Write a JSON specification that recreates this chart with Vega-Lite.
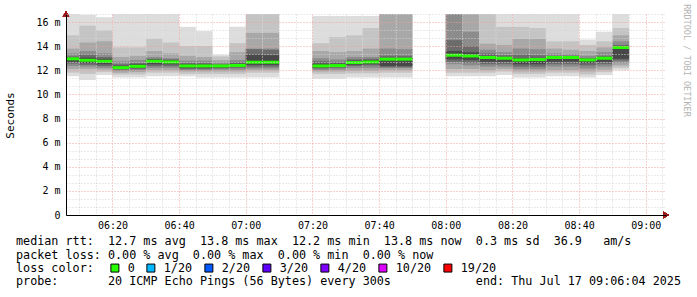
{
  "$schema": "https://vega.github.io/schema/vega-lite/v6.json",
  "width": 600,
  "height": 201,
  "autosize": {"type": "none"},
  "padding": {"left": 66, "top": 14, "right": 31, "bottom": 82},
  "background": "white",
  "config": {"view": {"stroke": null}},
  "title": {
    "text": [
      "median\u00a0rtt:\u00a0\u00a012.7\u00a0ms\u00a0avg\u00a0\u00a013.8\u00a0ms\u00a0max\u00a0\u00a012.2\u00a0ms\u00a0min\u00a0\u00a013.8\u00a0ms\u00a0now\u00a0\u00a00.3\u00a0ms\u00a0sd\u00a0\u00a036.9\u00a0\u00a0\u00a0am/s",
      "packet\u00a0loss:\u00a00.00\u00a0%\u00a0avg\u00a0\u00a00.00\u00a0%\u00a0max\u00a0\u00a00.00\u00a0%\u00a0min\u00a0\u00a00.00\u00a0%\u00a0now"
    ],
    "subtitle": "probe:\u00a0\u00a0\u00a0\u00a0\u00a0\u00a0\u00a020\u00a0ICMP\u00a0Echo\u00a0Pings\u00a0(56\u00a0Bytes)\u00a0every\u00a0300s\u00a0\u00a0\u00a0\u00a0\u00a0\u00a0\u00a0\u00a0\u00a0\u00a0\u00a0\u00a0end:\u00a0Thu\u00a0Jul\u00a017\u00a009:06:04\u00a02025",
    "orient": "bottom",
    "anchor": "start",
    "frame": "group",
    "dx": -50,
    "offset": -39,
    "font": "DejaVu Sans Mono",
    "fontSize": 11.75,
    "fontWeight": "normal",
    "color": "#000000",
    "lineHeight": 14,
    "subtitleFont": "DejaVu Sans Mono",
    "subtitleFontSize": 11.75,
    "subtitleFontWeight": "normal",
    "subtitleColor": "#000000",
    "subtitleLineHeight": 14,
    "subtitlePadding": 14,
    "baseline": "top"
  },
  "data": {"values": [
    {"t":"2025-07-17T06:05:00Z","t2":"2025-07-17T06:10:00Z","mn":11.5,"mx":16.8,"l2":11.8,"h2":14.9,"l3":12.1,"h3":13.8,"l4":12.35,"h4":13.4,"l5":12.55,"h5":13.15,"l6":12.7,"h6":13.05,"med":12.95,"loss":"0"},
    {"t":"2025-07-17T06:10:00Z","t2":"2025-07-17T06:15:00Z","mn":11.2,"mx":16.6,"l2":11.7,"h2":15.7,"l3":12.1,"h3":14.3,"l4":12.3,"h4":13.6,"l5":12.45,"h5":13.3,"l6":12.6,"h6":13.05,"med":12.83,"loss":"0"},
    {"t":"2025-07-17T06:15:00Z","t2":"2025-07-17T06:20:00Z","mn":11.6,"mx":16.4,"l2":11.85,"h2":15.3,"l3":12.05,"h3":14.4,"l4":12.2,"h4":13.4,"l5":12.35,"h5":13.1,"l6":12.5,"h6":12.95,"med":12.75,"loss":"0"},
    {"t":"2025-07-17T06:20:00Z","t2":"2025-07-17T06:25:00Z","mn":11.4,"mx":16.8,"l2":11.65,"h2":13.9,"l3":11.8,"h3":13.1,"l4":11.95,"h4":12.75,"l5":12.05,"h5":12.5,"l6":12.12,"h6":12.38,"med":12.22,"loss":"0"},
    {"t":"2025-07-17T06:25:00Z","t2":"2025-07-17T06:30:00Z","mn":11.4,"mx":16.7,"l2":11.65,"h2":13.9,"l3":11.85,"h3":13.2,"l4":12.0,"h4":12.85,"l5":12.1,"h5":12.6,"l6":12.2,"h6":12.5,"med":12.33,"loss":"0"},
    {"t":"2025-07-17T06:30:00Z","t2":"2025-07-17T06:35:00Z","mn":11.5,"mx":16.7,"l2":11.8,"h2":14.6,"l3":12.0,"h3":13.6,"l4":12.2,"h4":13.1,"l5":12.35,"h5":12.95,"l6":12.5,"h6":12.9,"med":12.75,"loss":"0"},
    {"t":"2025-07-17T06:35:00Z","t2":"2025-07-17T06:40:00Z","mn":11.5,"mx":16.7,"l2":11.8,"h2":14.3,"l3":12.0,"h3":13.4,"l4":12.2,"h4":13.0,"l5":12.35,"h5":12.9,"l6":12.5,"h6":12.8,"med":12.69,"loss":"0"},
    {"t":"2025-07-17T06:40:00Z","t2":"2025-07-17T06:45:00Z","mn":11.5,"mx":15.6,"l2":11.7,"h2":14.0,"l3":11.9,"h3":13.2,"l4":12.0,"h4":12.8,"l5":12.1,"h5":12.6,"l6":12.2,"h6":12.5,"med":12.36,"loss":"0"},
    {"t":"2025-07-17T06:45:00Z","t2":"2025-07-17T06:50:00Z","mn":11.4,"mx":15.25,"l2":11.7,"h2":14.0,"l3":11.9,"h3":13.1,"l4":12.0,"h4":12.8,"l5":12.1,"h5":12.6,"l6":12.2,"h6":12.5,"med":12.36,"loss":"0"},
    {"t":"2025-07-17T06:50:00Z","t2":"2025-07-17T06:55:00Z","mn":11.4,"mx":13.3,"l2":11.7,"h2":13.15,"l3":11.9,"h3":12.85,"l4":12.05,"h4":12.65,"l5":12.15,"h5":12.5,"l6":12.22,"h6":12.45,"med":12.36,"loss":"0"},
    {"t":"2025-07-17T06:55:00Z","t2":"2025-07-17T07:00:00Z","mn":11.4,"mx":15.6,"l2":11.7,"h2":14.25,"l3":11.9,"h3":13.5,"l4":12.05,"h4":12.85,"l5":12.2,"h5":12.65,"l6":12.28,"h6":12.55,"med":12.4,"loss":"0"},
    {"t":"2025-07-17T07:00:00Z","t2":"2025-07-17T07:05:00Z","mn":11.4,"mx":16.7,"l2":11.8,"h2":16.7,"l3":12.0,"h3":15.1,"l4":12.15,"h4":13.8,"l5":12.3,"h5":13.75,"l6":12.45,"h6":13.3,"med":12.67,"loss":"0"},
    {"t":"2025-07-17T07:05:00Z","t2":"2025-07-17T07:10:00Z","mn":11.4,"mx":16.7,"l2":11.8,"h2":16.7,"l3":12.0,"h3":15.1,"l4":12.15,"h4":13.8,"l5":12.3,"h5":13.7,"l6":12.45,"h6":13.25,"med":12.67,"loss":"0"},
    {"t":"2025-07-17T07:20:00Z","t2":"2025-07-17T07:25:00Z","mn":11.3,"mx":16.5,"l2":11.7,"h2":14.25,"l3":11.9,"h3":13.6,"l4":12.0,"h4":13.0,"l5":12.15,"h5":12.75,"l6":12.22,"h6":12.55,"med":12.36,"loss":"0"},
    {"t":"2025-07-17T07:25:00Z","t2":"2025-07-17T07:30:00Z","mn":11.3,"mx":16.5,"l2":11.7,"h2":14.75,"l3":11.9,"h3":13.5,"l4":12.05,"h4":12.9,"l5":12.2,"h5":12.65,"l6":12.28,"h6":12.55,"med":12.39,"loss":"0"},
    {"t":"2025-07-17T07:30:00Z","t2":"2025-07-17T07:35:00Z","mn":11.4,"mx":16.5,"l2":11.75,"h2":14.9,"l3":11.95,"h3":13.6,"l4":12.2,"h4":13.1,"l5":12.35,"h5":12.9,"l6":12.45,"h6":12.8,"med":12.64,"loss":"0"},
    {"t":"2025-07-17T07:35:00Z","t2":"2025-07-17T07:40:00Z","mn":11.4,"mx":16.5,"l2":11.75,"h2":15.5,"l3":11.95,"h3":13.8,"l4":12.2,"h4":13.1,"l5":12.4,"h5":12.95,"l6":12.5,"h6":12.85,"med":12.69,"loss":"0"},
    {"t":"2025-07-17T07:40:00Z","t2":"2025-07-17T07:45:00Z","mn":11.4,"mx":16.7,"l2":11.8,"h2":16.7,"l3":12.0,"h3":16.7,"l4":12.2,"h4":13.8,"l5":12.25,"h5":13.2,"l6":12.35,"h6":13.0,"med":12.92,"loss":"0"},
    {"t":"2025-07-17T07:45:00Z","t2":"2025-07-17T07:50:00Z","mn":11.4,"mx":16.7,"l2":11.8,"h2":16.7,"l3":12.0,"h3":16.7,"l4":12.2,"h4":13.75,"l5":12.25,"h5":13.2,"l6":12.35,"h6":13.0,"med":12.92,"loss":"0"},
    {"t":"2025-07-17T08:00:00Z","t2":"2025-07-17T08:05:00Z","mn":11.5,"mx":16.7,"l2":11.8,"h2":16.7,"l3":12.1,"h3":16.7,"l4":12.5,"h4":16.7,"l5":12.7,"h5":14.5,"l6":12.9,"h6":13.6,"med":13.25,"loss":"0"},
    {"t":"2025-07-17T08:05:00Z","t2":"2025-07-17T08:10:00Z","mn":11.5,"mx":16.7,"l2":11.8,"h2":16.7,"l3":12.1,"h3":16.7,"l4":12.4,"h4":15.2,"l5":12.6,"h5":14.0,"l6":12.85,"h6":13.5,"med":13.19,"loss":"0"},
    {"t":"2025-07-17T08:10:00Z","t2":"2025-07-17T08:15:00Z","mn":11.5,"mx":16.7,"l2":11.8,"h2":16.7,"l3":12.0,"h3":14.2,"l4":12.3,"h4":13.7,"l5":12.5,"h5":13.4,"l6":12.7,"h6":13.2,"med":13.06,"loss":"0"},
    {"t":"2025-07-17T08:15:00Z","t2":"2025-07-17T08:20:00Z","mn":11.6,"mx":16.7,"l2":11.9,"h2":15.6,"l3":12.1,"h3":14.1,"l4":12.3,"h4":13.5,"l5":12.5,"h5":13.25,"l6":12.7,"h6":13.1,"med":13.0,"loss":"0"},
    {"t":"2025-07-17T08:20:00Z","t2":"2025-07-17T08:25:00Z","mn":11.4,"mx":16.7,"l2":11.7,"h2":15.6,"l3":11.9,"h3":14.6,"l4":12.1,"h4":13.8,"l5":12.3,"h5":13.3,"l6":12.5,"h6":13.0,"med":12.86,"loss":"0"},
    {"t":"2025-07-17T08:25:00Z","t2":"2025-07-17T08:30:00Z","mn":11.4,"mx":16.7,"l2":11.7,"h2":15.5,"l3":11.9,"h3":14.6,"l4":12.1,"h4":13.75,"l5":12.3,"h5":13.25,"l6":12.5,"h6":13.0,"med":12.89,"loss":"0"},
    {"t":"2025-07-17T08:30:00Z","t2":"2025-07-17T08:35:00Z","mn":11.5,"mx":16.7,"l2":11.8,"h2":14.4,"l3":12.0,"h3":13.8,"l4":12.3,"h4":13.4,"l5":12.5,"h5":13.2,"l6":12.7,"h6":13.1,"med":13.06,"loss":"0"},
    {"t":"2025-07-17T08:35:00Z","t2":"2025-07-17T08:40:00Z","mn":11.5,"mx":16.7,"l2":11.8,"h2":14.4,"l3":12.0,"h3":13.7,"l4":12.3,"h4":13.35,"l5":12.5,"h5":13.2,"l6":12.7,"h6":13.1,"med":13.06,"loss":"0"},
    {"t":"2025-07-17T08:40:00Z","t2":"2025-07-17T08:45:00Z","mn":11.4,"mx":14.55,"l2":11.65,"h2":14.1,"l3":11.9,"h3":13.6,"l4":12.15,"h4":13.2,"l5":12.4,"h5":13.0,"l6":12.6,"h6":12.95,"med":12.86,"loss":"0"},
    {"t":"2025-07-17T08:45:00Z","t2":"2025-07-17T08:50:00Z","mn":11.6,"mx":15.2,"l2":11.85,"h2":14.4,"l3":12.05,"h3":13.9,"l4":12.3,"h4":13.5,"l5":12.5,"h5":13.2,"l6":12.7,"h6":13.1,"med":13.0,"loss":"0"},
    {"t":"2025-07-17T08:50:00Z","t2":"2025-07-17T08:55:00Z","mn":12.0,"mx":16.7,"l2":12.2,"h2":15.5,"l3":12.4,"h3":14.9,"l4":12.6,"h4":14.4,"l5":12.8,"h5":14.1,"l6":12.95,"h6":14.0,"med":13.89,"loss":"0"}
  ]},
  "layer": [
    {
      "mark": {"type": "rect", "color": "#dddddd", "clip": true},
      "encoding": {
        "x": {"field": "t", "type": "temporal",
          "scale": {"type": "utc", "domain": [1752732364000, 1752743164000]},
          "axis": {
            "orient": "bottom",
            "values": [1752733200000, 1752734400000, 1752735600000, 1752736800000, 1752738000000, 1752739200000, 1752740400000, 1752741600000, 1752742800000],
            "labelExpr": "utcFormat(datum.value, '%H:%M')",
            "grid": true,
            "gridColor": "#f0a0a0",
            "gridDash": [1, 2],
            "gridWidth": 1,
            "ticks": false,
            "domain": true,
            "domainColor": "#000000",
            "labelFont": "DejaVu Sans Mono",
            "labelFontSize": 10,
            "labelColor": "#000000",
            "labelPadding": 5,
            "labelOverlap": false,
            "labelFlush": false,
            "title": null,
            "zindex": 1
          }
        },
        "x2": {"field": "t2"},
        "y": {"field": "mn", "type": "quantitative",
          "scale": {"domain": [0, 16.667], "nice": false, "zero": true},
          "axis": {
            "values": [0, 0.6667, 1.3333, 2, 2.6667, 3.3333, 4, 4.6667, 5.3333, 6, 6.6667, 7.3333, 8, 8.6667, 9.3333, 10, 10.6667, 11.3333, 12, 12.6667, 13.3333, 14, 14.6667, 15.3333, 16, 16.6667],
            "labelExpr": "abs(datum.value/2 - round(datum.value/2)) < 0.01 ? (datum.value == 0 ? '0' : round(datum.value) + ' m') : ''",
            "grid": true,
            "gridColor": {"condition": {"test": "abs(datum.value/2 - round(datum.value/2)) < 0.01", "value": "#f0a0a0"}, "value": "#d4d4d4"},
            "gridDash": [1, 2],
            "gridWidth": 1,
            "ticks": false,
            "domainColor": "#000000",
            "labelFont": "DejaVu Sans Mono",
            "labelFontSize": 10,
            "labelColor": "#000000",
            "labelPadding": 6,
            "labelOverlap": false,
            "title": "Seconds",
            "titleFont": "DejaVu Sans Mono",
            "titleFontSize": 11,
            "titleFontWeight": "normal",
            "titleColor": "#000000",
            "titleX": -56,
            "titleY": 101,
            "titleAngle": -90,
            "titleAlign": "center",
            "titleBaseline": "middle",
            "zindex": 1
          }
        },
        "y2": {"field": "mx"}
      }
    },
    {
      "mark": {"type": "rect", "color": "#c4c4c4", "clip": true},
      "encoding": {
        "x": {"field": "t", "type": "temporal",
          "axis": {
            "orient": "bottom",
            "values": [1752732600000, 1752732900000, 1752733500000, 1752733800000, 1752734100000, 1752734700000, 1752735000000, 1752735300000, 1752735900000, 1752736200000, 1752736500000, 1752737100000, 1752737400000, 1752737700000, 1752738300000, 1752738600000, 1752738900000, 1752739500000, 1752739800000, 1752740100000, 1752740700000, 1752741000000, 1752741300000, 1752741900000, 1752742200000, 1752742500000, 1752743100000],
            "labels": false,
            "ticks": false,
            "domain": false,
            "grid": true,
            "gridColor": "#d4d4d4",
            "gridDash": [1, 2],
            "gridWidth": 1,
            "title": null,
            "zindex": 1
          }
        },
        "x2": {"field": "t2"},
        "y": {"field": "l2", "type": "quantitative", "axis": null}, "y2": {"field": "h2"}}
    },
    {
      "mark": {"type": "rect", "color": "#a8a8a8", "clip": true},
      "encoding": {"x": {"field": "t", "type": "temporal", "axis": null}, "x2": {"field": "t2"},
        "y": {"field": "l3", "type": "quantitative", "axis": null}, "y2": {"field": "h3"}}
    },
    {
      "mark": {"type": "rect", "color": "#8c8c8c", "clip": true},
      "encoding": {"x": {"field": "t", "type": "temporal", "axis": null}, "x2": {"field": "t2"},
        "y": {"field": "l4", "type": "quantitative", "axis": null}, "y2": {"field": "h4"}}
    },
    {
      "mark": {"type": "rect", "color": "#6b6b6b", "clip": true},
      "encoding": {"x": {"field": "t", "type": "temporal", "axis": null}, "x2": {"field": "t2"},
        "y": {"field": "l5", "type": "quantitative", "axis": null}, "y2": {"field": "h5"}}
    },
    {
      "mark": {"type": "rect", "color": "#484848", "clip": true},
      "encoding": {"x": {"field": "t", "type": "temporal", "axis": null}, "x2": {"field": "t2"},
        "y": {"field": "l6", "type": "quantitative", "axis": null}, "y2": {"field": "h6"}}
    },
    {
      "mark": {"type": "rect", "height": 3, "clip": true},
      "encoding": {
        "x": {"field": "t", "type": "temporal", "axis": null}, "x2": {"field": "t2"},
        "y": {"field": "med", "type": "quantitative", "axis": null},
        "color": {"field": "loss", "type": "nominal",
          "scale": {"domain": ["0", "1/20", "2/20", "3/20", "4/20", "10/20", "19/20"],
                    "range": ["#26ff00", "#00b8ff", "#0059ff", "#5e00ff", "#7e00ff", "#dd00ff", "#ff0000"]},
          "legend": {
            "orient": "none",
            "legendX": -50,
            "legendY": 248,
            "direction": "horizontal",
            "padding": 0,
            "title": "loss color:",
            "titleOrient": "left",
            "titleFont": "DejaVu Sans Mono",
            "titleFontSize": 11.75,
            "titleFontWeight": "normal",
            "titleColor": "#000000",
            "titlePadding": 15,
            "labelFont": "DejaVu Sans Mono",
            "labelFontSize": 11.75,
            "labelColor": "#000000",
            "labelOffset": 7,
            "columnPadding": 9,
            "symbolType": "square",
            "symbolSize": 64,
            "symbolStrokeColor": "#000000",
            "symbolStrokeWidth": 1,
            "symbolOpacity": 1
          }
        }
      }
    },
    {
      "mark": {"type": "point", "shape": "triangle-right", "filled": true, "color": "#a01818", "size": 40, "opacity": 1, "dx": 4},
      "encoding": {
        "x": {"datum": 1752743164000, "type": "temporal", "axis": null},
        "y": {"datum": 0, "type": "quantitative", "axis": null}
      }
    },
    {
      "mark": {"type": "point", "shape": "triangle-up", "filled": true, "color": "#a01818", "size": 40, "opacity": 1, "dy": -4},
      "encoding": {
        "x": {"datum": 1752732364000, "type": "temporal", "axis": null},
        "y": {"datum": 16.667, "type": "quantitative",
          "axis": {
            "orient": "right",
            "labels": false,
            "ticks": false,
            "domain": false,
            "grid": false,
            "title": "RRDTOOL / TOBI OETIKER",
            "titleFont": "DejaVu Sans Mono",
            "titleFontSize": 8.5,
            "titleFontWeight": "normal",
            "titleColor": "#b4b4b4",
            "titleAngle": 90,
            "titleX": 20,
            "titleY": 46,
            "titleAlign": "center",
            "titleBaseline": "middle"
          }
        }
      }
    }
  ],
  "resolve": {"axis": {"x": "independent", "y": "independent"}}
}
